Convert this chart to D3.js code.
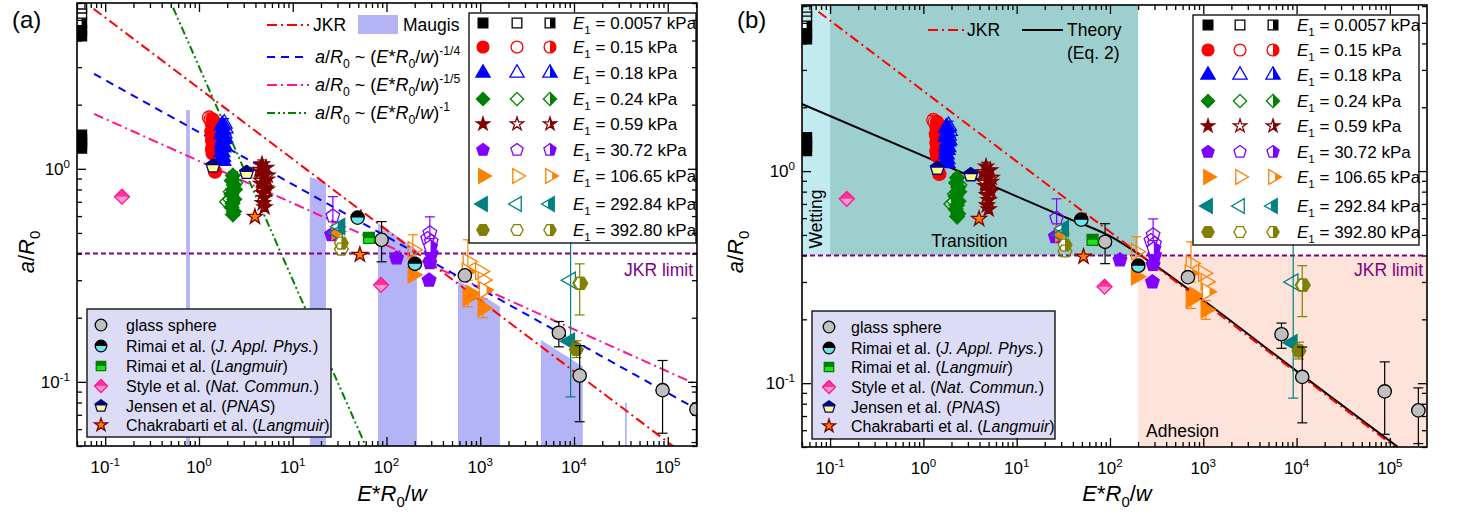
<!DOCTYPE html>
<html lang="en">
<head>
<meta charset="utf-8">
<style>
    body { margin: 0; background: #fff; }
    svg text { font-family: "Liberation Sans", Arial, sans-serif; }
</style>
</head>
<body>
<svg id="chart" width="1462" height="512"></svg>
<script src="https://d3js.org/d3.v7.min.js"></script>
<script>

    // ---- data ----
    var xMajor = [0.1, 1, 10, 100, 1e3, 1e4, 1e5];
    var xTickExp = ["-1", "0", "1", "2", "3", "4", "5"];
    var yMajor = [0.1, 1];
    var yTickExp = ["-1", "0"];

    var e1Labels = ["0.0057", "0.15", "0.18", "0.24", "0.59", "30.72", "106.65", "292.84", "392.80"];
    var e1Colors = ["#000000", "#ff0000", "#0000ff", "#008000", "#800000", "#8000ff", "#ff8000", "#008080", "#808000"];
    var e1Shapes = ["square", "circle", "triangle", "diamond", "star", "pentagon", "right", "left", "hexagon"];

    // [x, y, kind (f filled / o open / h half), errLo, errHi]
    var pts0057 = [[0.056, 5.68, "o"], [0.056, 5.33, "o"], [0.056, 4.83, "h"], [0.056, 4.45, "f"], [0.056, 4.2, "f"],
        [0.056, 1.44, "f"], [0.056, 1.37, "f"], [0.056, 1.31, "f"], [0.056, 1.25, "f"]];
    var pts015 = [[1.28, 1.74, "o", 1.66, 1.83], [1.33, 1.70, "h"], [1.36, 1.50, "h"],
        [1.40, 1.70, "f"], [1.38, 1.62, "f"], [1.41, 1.55, "f"], [1.37, 1.48, "f"], [1.40, 1.42, "f"],
        [1.38, 1.36, "f"], [1.41, 1.30, "f"], [1.38, 1.24, "f"], [1.40, 1.18, "f"], [1.48, 0.97, "f"]];
    var pts018 = [[1.86, 1.63, "o", 1.55, 1.72], [1.90, 1.55, "o"], [1.85, 1.47, "o"], [1.88, 1.40, "h"], [1.83, 1.30, "h"],
        [1.76, 1.60, "f"], [1.80, 1.52, "f"], [1.75, 1.45, "f"], [1.82, 1.38, "f"], [1.78, 1.32, "f"],
        [1.80, 1.26, "f"], [1.76, 1.20, "f"], [1.79, 1.14, "f"], [1.80, 1.09, "f"]];
    var pts024 = [[1.99, 0.70, "o"], [2.18, 0.78, "o"], [2.44, 0.86, "o"], [2.15, 0.72, "h"], [2.42, 0.80, "h"],
        [2.30, 0.93, "f", 0.89, 0.97], [2.24, 0.88, "f"], [2.36, 0.84, "f"], [2.30, 0.80, "f"], [2.22, 0.76, "f"],
        [2.38, 0.72, "f"], [2.28, 0.69, "f"], [2.22, 0.66, "f"], [2.36, 0.63, "f"], [2.30, 0.61, "f"]];
    var pts059 = [[4.4, 0.99, "o"], [5.4, 0.93, "o"], [4.6, 0.88, "h"], [5.3, 0.80, "h"],
        [4.7, 1.05, "f", 1.0, 1.10], [5.2, 1.01, "f"], [4.5, 0.97, "f"], [5.0, 0.93, "f"], [5.3, 0.89, "f"],
        [4.6, 0.85, "f"], [5.1, 0.81, "f"], [4.8, 0.77, "f"], [5.0, 0.73, "f"], [4.8, 0.69, "f"], [5.0, 0.66, "f"]];
    var pts3072 = [[26, 0.49, "f"], [128, 0.381, "f"], [290, 0.362, "f"], [285, 0.30, "f"], [300, 0.40, "f"],
        [26.8, 0.60, "o", 0.50, 0.74], [290, 0.50, "o", 0.42, 0.595], [300, 0.455, "o"], [275, 0.47, "o"], [295, 0.43, "h"]];
    var pts10665 = [[29.4, 0.508, "f"], [191, 0.318, "f"], [738, 0.248, "f", 0.225, 0.27], [1066, 0.222, "f", 0.2, 0.245],
        [800, 0.26, "f"], [191, 0.417, "o", 0.36, 0.49], [738, 0.367, "o", 0.3, 0.464], [1066, 0.301, "o"],
        [1000, 0.33, "o"], [720, 0.33, "h"], [1100, 0.27, "h"]];
    var pts29284 = [[31.9, 0.536, "h"], [30, 0.50, "o"], [9200, 0.30, "o", 0.085, 0.515], [9000, 0.155, "f"]];
    var pts39280 = [[33, 0.448, "h"], [33, 0.42, "o"], [11500, 0.29, "h", 0.206, 0.358], [11800, 0.29, "o"],
        [10600, 0.142, "f", 0.13, 0.156]];
    var e1Series = [pts0057, pts015, pts018, pts024, pts059, pts3072, pts10665, pts29284, pts39280];

    // literature / glass sphere: [x, y, errLo, errHi]
    var glassSphere = [[88.6, 0.464, 0.366, 0.565], [685, 0.316], [6890, 0.17, 0.146, 0.192],
        [11500, 0.107, 0.065, 0.148], [88000, 0.0914, 0.0574, 0.126], [202000, 0.0744, 0.0519, 0.095]];
    var rimaiJAP = [[49.2, 0.59], [201, 0.358]];
    var rimaiLangmuir = [[65, 0.474]];
    var styleNC = [[0.151, 0.74], [87.5, 0.285]];
    var jensenPNAS = [[1.41, 1.03], [3.22, 0.96]];
    var chakrabarti = [[3.95, 0.595], [52, 0.395]];
    var litSeries = [glassSphere, rimaiJAP, rimaiLangmuir, styleNC, jensenPNAS, chakrabarti];
    var litAuthors = ["glass sphere", "Rimai et al. (", "Rimai et al. (", "Style et al. (", "Jensen et al. (", "Chakrabarti et al. ("];
    var litJournals = ["", "J. Appl. Phys.", "Langmuir", "Nat. Commun.", "PNAS", "Langmuir"];

    // model lines
    var jkrLine = [[0.075, 5.64], [1.3e5, 0.0478]];
    var quarterLine = [[0.076, 2.79], [2.09e5, 0.074]];
    var fifthLine = [[0.076, 1.81], [2.05e5, 0.097]];
    var inverseLine = [[0.53, 5.7], [60, 0.05]];
    var theoryLine = [[0.05, 2.07], [1, 1.18], [10, 0.76], [30, 0.617], [100, 0.493], [300, 0.361], [1000, 0.246],
        [1e4, 0.114], [1.22e5, 0.05]];
    var jkrLimit = 0.4;

    // Maugis bands: [x0, x1, top at x0, top at x1]
    var maugisBands = [[0.73, 0.80, 1.89, 1.89], [15.2, 22.6, 0.917, 0.859], [81, 211, 0.557, 0.417],
        [577, 1618, 0.301, 0.226], [4430, 12400, 0.157, 0.118], [35000, 36500, 0.0797, 0.0797]];

    // regimes (panel b)
    var wettingRange = [0.05, 0.1];
    var transitionRange = [0.1, 200];

    // ---- symbols ----
    function regular(n, start) {
        return {
            draw: function (ctx, size) {
                var r = Math.sqrt(size / (n / 2 * Math.sin(2 * Math.PI / n)));
                for (var k = 0; k < n; k++) {
                    var a = start + k * 2 * Math.PI / n;
                    if (k == 0) ctx.moveTo(r * Math.cos(a), r * Math.sin(a));
                    else ctx.lineTo(r * Math.cos(a), r * Math.sin(a));
                }
                ctx.closePath();
            }
        };
    }
    var symTypes = {
        square: d3.symbolSquare,
        circle: d3.symbolCircle,
        triangle: regular(3, -Math.PI / 2),
        diamond: regular(4, -Math.PI / 2),
        star: d3.symbolStar,
        pentagon: regular(5, -Math.PI / 2),
        right: regular(3, 0),
        left: regular(3, Math.PI),
        hexagon: regular(6, 0)
    };
    // visual size correction per shape
    var symScale = {square: 0.85, circle: 1, triangle: 0.8, diamond: 0.8, star: 0.5, pentagon: 0.9, right: 0.85, left: 0.85, hexagon: 0.9};

    var svg = d3.select("#chart");
    var defs = svg.append("defs");
    [["rightHalf", 0.5, 0, 0.5, 1], ["topHalf", 0, 0, 1, 0.5]].forEach(function (c) {
        defs.append("clipPath").attr("id", c[0]).attr("clipPathUnits", "objectBoundingBox")
            .append("rect").attr("x", c[1]).attr("y", c[2]).attr("width", c[3]).attr("height", c[4]);
    });

    function marker(g, shape, cx, cy, size, st) {
        var m = g.append("g").attr("transform", "translate(" + cx + "," + cy + ")");
        var d = d3.symbol().type(symTypes[shape]).size(size * symScale[shape])();
        if (st.fill) m.append("path").attr("d", d).attr("fill", st.fill);
        if (st.top) m.append("path").attr("d", d).attr("fill", st.top).attr("clip-path", "url(#topHalf)");
        if (st.right) m.append("path").attr("d", d).attr("fill", st.right).attr("clip-path", "url(#rightHalf)");
        m.append("path").attr("d", d).attr("fill", "none").attr("stroke", st.stroke).attr("stroke-width", 1.3);
    }

    function e1Style(kind, c) {
        if (kind == "f") return {fill: c, stroke: c};
        if (kind == "h") return {fill: "#fff", right: c, stroke: c};
        return {stroke: c};
    }

    var litStyles = [
        {shape: "circle", st: {fill: "#c0c0c0", stroke: "#000"}},
        {shape: "circle", st: {fill: "#70e4ec", top: "#000", stroke: "#000"}},
        {shape: "square", st: {fill: "#22dd22", top: "#008000", stroke: "#008000"}},
        {shape: "diamond", st: {fill: "#ff99d0", top: "#ff3399", stroke: "#ff1493"}},
        {shape: "pentagon", st: {fill: "#ffff88", top: "#000080", stroke: "#000080"}},
        {shape: "star", st: {fill: "#ff8000", stroke: "#800000"}}
    ];

    // rich text: parts = [[text, flag]] with flag "i", "sub", "sup"
    function richText(sel, parts, size) {
        var shift = 0;
        parts.forEach(function (p) {
            var f = p[1] || "";
            var target = f == "sub" ? size * 0.28 : (f == "sup" ? -size * 0.42 : 0);
            var ts = sel.append("tspan").attr("dy", target - shift).text(p[0]);
            shift = target;
            if (f == "i") ts.attr("font-style", "italic");
            if (f == "sub" || f == "sup") ts.attr("font-size", size * 0.68);
        });
        return sel;
    }

    var aR = [["a", "i"], ["/"], ["R", "i"], ["0", "sub"]];
    var ERw = [["E", "i"], ["*"], ["R", "i"], ["0", "sub"], ["/"], ["w", "i"]];

    var panels = [
        {
            name: "(a)", x0: 77, x1: 697, y0: 3, y1: 446, xMax: 2.05e5, yMax: 6.0, lab: 12,
            e1Box: [469, 13, 696, 243], e1Rows: [23, 47, 73, 99, 124, 150, 176, 204, 230], e1Cols: [483, 517, 550], e1Text: 573,
            litBox: [87, 309, 331, 437], litRows: [325, 346, 366, 386, 406, 425], litSym: 101, litText: 126,
            xTitle: 392, yTitleX: 34, maugis: true
        },
        {
            name: "(b)", x0: 802, x1: 1427, y0: 5, y1: 447, xMax: 2.5e5, yMax: 6.07, lab: 737,
            e1Box: [1193, 15, 1419, 245], e1Rows: [25, 50, 75, 101, 126, 152, 177, 206, 232], e1Cols: [1208, 1240, 1273], e1Text: 1297,
            litBox: [812, 311, 1055, 439], litRows: [327, 348, 367, 387, 407, 426], litSym: 829, litText: 851,
            xTitle: 1117, yTitleX: 743, maugis: false
        }
    ];

    var dashJKR = "10,4,2,4";

    panels.forEach(function (p, pi) {
        var x = d3.scaleLog().domain([0.05, p.xMax]).range([p.x0, p.x1]);
        var y = d3.scaleLog().domain([0.05, p.yMax]).range([p.y1, p.y0]);
        var g = svg.append("g");
        var clipId = "plot" + pi;
        defs.append("clipPath").attr("id", clipId).append("rect")
            .attr("x", p.x0).attr("y", p.y0).attr("width", p.x1 - p.x0).attr("height", p.y1 - p.y0);
        var plot = g.append("g").attr("clip-path", "url(#" + clipId + ")");
        var line = d3.line().x(function (d) { return x(d[0]); }).y(function (d) { return y(d[1]); });

        // regimes
        if (!p.maugis) {
            plot.append("rect").attr("x", x(wettingRange[0])).attr("y", p.y0)
                .attr("width", x(wettingRange[1]) - x(wettingRange[0])).attr("height", y(jkrLimit) - p.y0).attr("fill", "#c2eaf1");
            plot.append("rect").attr("x", x(transitionRange[0])).attr("y", p.y0)
                .attr("width", x(transitionRange[1]) - x(transitionRange[0])).attr("height", y(jkrLimit) - p.y0).attr("fill", "#9dcfce");
            plot.append("rect").attr("x", x(transitionRange[1])).attr("y", y(jkrLimit))
                .attr("width", p.x1 - x(transitionRange[1])).attr("height", p.y1 - y(jkrLimit)).attr("fill", "#fde3d9");
        }

        // Maugis bands
        if (p.maugis) {
            maugisBands.forEach(function (b) {
                plot.append("path")
                    .attr("d", "M" + x(b[0]) + "," + p.y1 + "L" + x(b[0]) + "," + y(b[2]) + "L" + x(b[1]) + "," + y(b[3]) + "L" + x(b[1]) + "," + p.y1 + "Z")
                    .attr("fill", "#b3b3f5");
            });
        }

        // model lines
        if (p.maugis) {
            plot.append("path").attr("d", line(inverseLine)).attr("fill", "none").attr("stroke", "#008000")
                .attr("stroke-width", 2).attr("stroke-dasharray", "8,3,2,3,2,3");
            plot.append("path").attr("d", line(fifthLine)).attr("fill", "none").attr("stroke", "#ff1493")
                .attr("stroke-width", 2).attr("stroke-dasharray", dashJKR);
            plot.append("path").attr("d", line(quarterLine)).attr("fill", "none").attr("stroke", "#0000ff")
                .attr("stroke-width", 2).attr("stroke-dasharray", "8,6");
        } else {
            plot.append("path").attr("d", d3.line().x(function (d) { return x(d[0]); }).y(function (d) { return y(d[1]); })
                .curve(d3.curveMonotoneX)(theoryLine)).attr("fill", "none").attr("stroke", "#000").attr("stroke-width", 2);
        }
        plot.append("path").attr("d", line(jkrLine)).attr("fill", "none").attr("stroke", "#ff0000")
            .attr("stroke-width", 2).attr("stroke-dasharray", dashJKR);

        // JKR limit
        plot.append("line").attr("x1", p.x0).attr("x2", p.x1).attr("y1", y(jkrLimit)).attr("y2", y(jkrLimit))
            .attr("stroke", "#800080").attr("stroke-width", 2).attr("stroke-dasharray", "5,3");

        // error bars + markers
        function errBar(d, lo, hi, c) {
            var cx = x(d);
            plot.append("line").attr("x1", cx).attr("x2", cx).attr("y1", y(lo)).attr("y2", y(hi)).attr("stroke", c).attr("stroke-width", 1.2);
            [lo, hi].forEach(function (v) {
                plot.append("line").attr("x1", cx - 5).attr("x2", cx + 5).attr("y1", y(v)).attr("y2", y(v)).attr("stroke", c).attr("stroke-width", 1.2);
            });
        }
        e1Series.forEach(function (s, si) {
            s.forEach(function (d) {
                if (d.length > 3) errBar(d[0], d[3], d[4], e1Colors[si]);
                marker(plot, e1Shapes[si], x(d[0]), y(d[1]), si == 0 ? 115 : 135, e1Style(d[2], e1Colors[si]));
            });
        });
        litSeries.forEach(function (s, si) {
            s.forEach(function (d) {
                if (d.length > 2) errBar(d[0], d[2], d[3], "#000");
                marker(plot, litStyles[si].shape, x(d[0]), y(d[1]), 140, litStyles[si].st);
            });
        });

        // regime labels
        if (!p.maugis) {
            g.append("text").attr("transform", "translate(" + (x(0.05) + 20) + ",219) rotate(-90)")
                .attr("text-anchor", "middle").attr("font-size", 17.5).text("Wetting");
            g.append("text").attr("x", x(1.1) + 4).attr("y", 247).attr("font-size", 17.5).text("Transition");
            g.append("text").attr("x", x(transitionRange[1]) + 8).attr("y", 437).attr("font-size", 17.5).text("Adhesion");
        }
        g.append("text").attr("x", p.x1 - 4).attr("y", 276).attr("text-anchor", "end")
            .attr("fill", "#800080").attr("font-size", 17.5).text("JKR limit");

        // top-left line legend
        if (p.maugis) {
            var lx = 267;
            g.append("line").attr("x1", lx).attr("x2", lx + 42).attr("y1", 25).attr("y2", 25).attr("stroke", "#ff0000")
                .attr("stroke-width", 2).attr("stroke-dasharray", dashJKR);
            g.append("text").attr("x", 313).attr("y", 31).attr("font-size", 17.5).text("JKR");
            g.append("rect").attr("x", 358).attr("y", 15).attr("width", 40).attr("height", 19).attr("fill", "#b3b3f5");
            g.append("text").attr("x", 403).attr("y", 31).attr("font-size", 17.5).text("Maugis");
            var fl = [["-1/4", "#0000ff", "8,6", 57], ["-1/5", "#ff1493", dashJKR, 85], ["-1", "#008000", "8,3,2,3,2,3", 113]];
            fl.forEach(function (f) {
                g.append("line").attr("x1", lx).attr("x2", lx + 42).attr("y1", f[3]).attr("y2", f[3]).attr("stroke", f[1])
                    .attr("stroke-width", 2).attr("stroke-dasharray", f[2]);
                richText(g.append("text").attr("x", 315).attr("y", f[3] + 6).attr("font-size", 18),
                    aR.concat([[" ~ ("]], ERw, [[")"], [f[0], "sup"]]), 18);
            });
        } else {
            g.append("line").attr("x1", 928).attr("x2", 964).attr("y1", 30).attr("y2", 30).attr("stroke", "#ff0000")
                .attr("stroke-width", 2).attr("stroke-dasharray", dashJKR);
            g.append("text").attr("x", 967).attr("y", 36).attr("font-size", 17.5).text("JKR");
            g.append("line").attr("x1", 1022).attr("x2", 1063).attr("y1", 30).attr("y2", 30).attr("stroke", "#000").attr("stroke-width", 2);
            g.append("text").attr("x", 1067).attr("y", 36).attr("font-size", 17.5).text("Theory");
            g.append("text").attr("x", 1067).attr("y", 59).attr("font-size", 17.5).text("(Eq. 2)");
        }

        // E1 legend
        var eb = p.e1Box;
        g.append("rect").attr("x", eb[0]).attr("y", eb[1]).attr("width", eb[2] - eb[0]).attr("height", eb[3] - eb[1])
            .attr("fill", "#fff").attr("stroke", "#000").attr("stroke-width", 1.3);
        e1Labels.forEach(function (lab, i) {
            var ry = p.e1Rows[i];
            ["f", "o", "h"].forEach(function (k, j) {
                marker(g, e1Shapes[i], p.e1Cols[j], ry, 110, e1Style(k, e1Colors[i]));
            });
            richText(g.append("text").attr("x", p.e1Text).attr("y", ry + 6).attr("font-size", 17),
                [["E", "i"], ["1", "sub"], [" = " + lab + " kPa"]], 17);
        });

        // literature legend
        var lb = p.litBox;
        g.append("rect").attr("x", lb[0]).attr("y", lb[1]).attr("width", lb[2] - lb[0]).attr("height", lb[3] - lb[1])
            .attr("fill", "#dcdcf6").attr("stroke", "#000").attr("stroke-width", 1.3);
        litAuthors.forEach(function (a, i) {
            var ry = p.litRows[i];
            marker(g, litStyles[i].shape, p.litSym, ry, 105, litStyles[i].st);
            var parts = [[a]];
            if (litJournals[i]) parts.push([litJournals[i], "i"], [")"]);
            richText(g.append("text").attr("x", p.litText).attr("y", ry + 5.5).attr("font-size", 16), parts, 16);
        });

        // frame and ticks
        g.append("rect").attr("x", p.x0).attr("y", p.y0).attr("width", p.x1 - p.x0).attr("height", p.y1 - p.y0)
            .attr("fill", "none").attr("stroke", "#000").attr("stroke-width", 1.6);
        var xMinor = [], yMinor = [];
        for (var e = -2; e <= 5; e++) for (var m = 2; m <= 9; m++) {
            var v = m * Math.pow(10, e);
            if (v >= 0.05 && v <= p.xMax) xMinor.push(v);
            if (v >= 0.05 && v <= p.yMax) yMinor.push(v);
        }
        function tickAxis(axis, vals, len, tr) {
            g.append("g").attr("transform", tr)
                .call(axis.tickValues(vals).tickSize(-len).tickSizeOuter(0).tickFormat(""))
                .call(function (s) { s.select(".domain").remove(); s.selectAll("line").attr("stroke-width", 1.3); });
        }
        tickAxis(d3.axisBottom(x), xMajor, 9, "translate(0," + p.y1 + ")");
        tickAxis(d3.axisBottom(x), xMinor, 5, "translate(0," + p.y1 + ")");
        tickAxis(d3.axisTop(x), xMajor, 9, "translate(0," + p.y0 + ")");
        tickAxis(d3.axisTop(x), xMinor, 5, "translate(0," + p.y0 + ")");
        tickAxis(d3.axisLeft(y), yMajor, 9, "translate(" + p.x0 + ",0)");
        tickAxis(d3.axisLeft(y), yMinor, 5, "translate(" + p.x0 + ",0)");
        tickAxis(d3.axisRight(y), yMajor, 9, "translate(" + p.x1 + ",0)");
        tickAxis(d3.axisRight(y), yMinor, 5, "translate(" + p.x1 + ",0)");

        // tick labels
        xMajor.forEach(function (v, i) {
            richText(g.append("text").attr("x", x(v)).attr("y", p.y1 + 27).attr("text-anchor", "middle").attr("font-size", 17),
                [["10"], [xTickExp[i], "sup"]], 17);
        });
        yMajor.forEach(function (v, i) {
            richText(g.append("text").attr("x", p.x0 - 7).attr("y", y(v) + 6).attr("text-anchor", "end").attr("font-size", 17),
                [["10"], [yTickExp[i], "sup"]], 17);
        });

        // titles
        richText(g.append("text").attr("x", p.xTitle).attr("y", 501).attr("text-anchor", "middle").attr("font-size", 22), ERw, 22);
        richText(g.append("text").attr("transform", "translate(" + p.yTitleX + ",252) rotate(-90)")
            .attr("text-anchor", "middle").attr("font-size", 22), aR, 22);
        g.append("text").attr("x", p.lab).attr("y", 28).attr("font-size", 24).text(p.name);
    });

</script>
</body>
</html>
